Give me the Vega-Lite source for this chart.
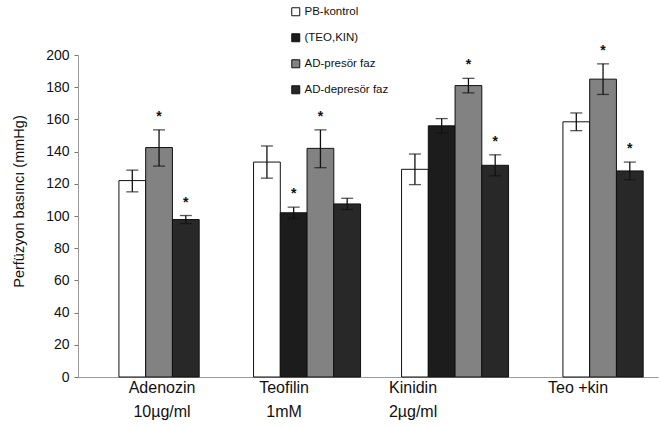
{
  "$schema": "https://vega.github.io/schema/vega-lite/v6.json",
  "width": 580,
  "height": 322,
  "autosize": {"type": "none"},
  "padding": {"left": 78, "top": 55, "right": 3, "bottom": 50},
  "background": "white",
  "config": {"view": {"stroke": null}, "font": "Liberation Sans"},
  "data": {
    "values": [
      {"group": "Adenozin", "series": "PB-kontrol", "v": 122, "lo": 115, "hi": 128.5, "sig": 0},
      {"group": "Adenozin", "series": "AD-presör faz", "v": 142.5, "lo": 131, "hi": 153.5, "sig": 1},
      {"group": "Adenozin", "series": "AD-depresör faz", "v": 97.8, "lo": 95.3, "hi": 100.3, "sig": 1},
      {"group": "Teofilin", "series": "PB-kontrol", "v": 133.5, "lo": 123.5, "hi": 143.5, "sig": 0},
      {"group": "Teofilin", "series": "(TEO,KIN)", "v": 102, "lo": 98.5, "hi": 105.5, "sig": 1},
      {"group": "Teofilin", "series": "AD-presör faz", "v": 142, "lo": 130, "hi": 153.5, "sig": 1},
      {"group": "Teofilin", "series": "AD-depresör faz", "v": 107.5, "lo": 104, "hi": 111, "sig": 0},
      {"group": "Kinidin", "series": "PB-kontrol", "v": 129, "lo": 119.5, "hi": 138.5, "sig": 0},
      {"group": "Kinidin", "series": "(TEO,KIN)", "v": 156, "lo": 151.5, "hi": 160.5, "sig": 0},
      {"group": "Kinidin", "series": "AD-presör faz", "v": 181, "lo": 176.5, "hi": 185.5, "sig": 1},
      {"group": "Kinidin", "series": "AD-depresör faz", "v": 131.5, "lo": 125, "hi": 138, "sig": 1},
      {"group": "Teo +kin", "series": "PB-kontrol", "v": 158.5, "lo": 153, "hi": 164, "sig": 0},
      {"group": "Teo +kin", "series": "AD-presör faz", "v": 185, "lo": 175.5, "hi": 194.5, "sig": 1},
      {"group": "Teo +kin", "series": "AD-depresör faz", "v": 128, "lo": 122.5, "hi": 133.5, "sig": 1}
    ]
  },
  "encoding": {
    "x": {
      "field": "group",
      "type": "nominal",
      "scale": {"domain": ["Adenozin", "Teofilin", "Kinidin", "Teo +kin"], "paddingInner": 0.277, "paddingOuter": 0.098, "align": 0.95},
      "axis": {
        "title": null,
        "labelAngle": 0,
        "domainColor": "#9a9a9a",
        "ticks": false,
        "labelFontSize": 16,
        "labelColor": "#111111",
        "labelPadding": 2,
        "labelLineHeight": 24,
        "labelExpr": "datum.value == 'Adenozin' ? ['Adenozin', '10µg/ml'] : datum.value == 'Teofilin' ? ['Teofilin', '1mM'] : datum.value == 'Kinidin' ? ['Kinidin', '2µg/ml'] : datum.value",
        "labelOffset": {
          "condition": [
            {"test": "datum.value == 'Teofilin'", "value": -23},
            {"test": "datum.value == 'Kinidin'", "value": -42},
            {"test": "datum.value == 'Teo +kin'", "value": -25}
          ],
          "value": 3
        }
      }
    },
    "y": {
      "field": "v",
      "type": "quantitative",
      "scale": {"domain": [0, 200]},
      "axis": {
        "values": [0, 20, 40, 60, 80, 100, 120, 140, 160, 180, 200],
        "grid": false,
        "domainColor": "#9a9a9a",
        "tickColor": "#777777",
        "tickSize": 4,
        "labelFontSize": 14,
        "labelColor": "#111111",
        "labelPadding": 5,
        "title": "Perfüzyon basıncı (mmHg)",
        "titleFontSize": 14.5,
        "titleFontWeight": "normal",
        "titleColor": "#111111",
        "titleAngle": 270,
        "titleBaseline": "middle",
        "titleAlign": "center",
        "titleX": -59,
        "titleY": 146
      }
    }
  },
  "layer": [
    {
      "transform": [{"filter": "datum.group == 'Teofilin' || datum.group == 'Kinidin'"}],
      "encoding": {
        "xOffset": {"field": "series", "type": "nominal", "scale": {"domain": ["PB-kontrol", "(TEO,KIN)", "AD-presör faz", "AD-depresör faz"], "paddingInner": 0, "paddingOuter": 0}}
      },
      "layer": [
        {
          "mark": {"type": "bar", "stroke": "#111111", "strokeWidth": 1},
          "encoding": {
            "color": {
              "field": "series",
              "type": "nominal",
              "scale": {"domain": ["PB-kontrol", "(TEO,KIN)", "AD-presör faz", "AD-depresör faz"], "range": ["#ffffff", "#1c1c1c", "#828282", "#282828"]},
              "legend": {"orient": "none", "legendX": 212, "legendY": -49, "title": null, "symbolType": "square", "symbolSize": 64, "symbolStrokeColor": "#111111", "symbolStrokeWidth": 1, "labelFontSize": 11.5, "labelColor": "#111111", "rowPadding": 13, "labelOffset": 3}
            }
          }
        },
        {
          "mark": {"type": "rule", "color": "#111111", "strokeWidth": 1.3},
          "encoding": {"y": {"field": "lo", "type": "quantitative"}, "y2": {"field": "hi"}}
        },
        {
          "mark": {"type": "tick", "orient": "horizontal", "size": 12, "thickness": 1.3, "color": "#111111"},
          "encoding": {"y": {"field": "hi", "type": "quantitative"}}
        },
        {
          "mark": {"type": "tick", "orient": "horizontal", "size": 12, "thickness": 1.3, "color": "#111111"},
          "encoding": {"y": {"field": "lo", "type": "quantitative"}}
        },
        {
          "transform": [{"filter": "datum.sig == 1"}],
          "mark": {"type": "text", "text": "*", "dy": -13, "fontSize": 14, "fontWeight": "bold", "color": "#111111"},
          "encoding": {"y": {"field": "hi", "type": "quantitative"}}
        }
      ]
    },
    {
      "transform": [{"filter": "datum.group == 'Adenozin' || datum.group == 'Teo +kin'"}],
      "encoding": {
        "xOffset": {"field": "series", "type": "nominal", "scale": {"domain": ["PB-kontrol", "AD-presör faz", "AD-depresör faz"], "paddingInner": 0, "paddingOuter": 0.5}}
      },
      "layer": [
        {
          "mark": {"type": "bar", "stroke": "#111111", "strokeWidth": 1},
          "encoding": {
            "color": {
              "field": "series",
              "type": "nominal",
              "scale": {"domain": ["PB-kontrol", "(TEO,KIN)", "AD-presör faz", "AD-depresör faz"], "range": ["#ffffff", "#1c1c1c", "#828282", "#282828"]},
              "legend": {"orient": "none", "legendX": 212, "legendY": -49, "title": null, "symbolType": "square", "symbolSize": 64, "symbolStrokeColor": "#111111", "symbolStrokeWidth": 1, "labelFontSize": 11.5, "labelColor": "#111111", "rowPadding": 13, "labelOffset": 3}
            }
          }
        },
        {
          "mark": {"type": "rule", "color": "#111111", "strokeWidth": 1.3},
          "encoding": {"y": {"field": "lo", "type": "quantitative"}, "y2": {"field": "hi"}}
        },
        {
          "mark": {"type": "tick", "orient": "horizontal", "size": 12, "thickness": 1.3, "color": "#111111"},
          "encoding": {"y": {"field": "hi", "type": "quantitative"}}
        },
        {
          "mark": {"type": "tick", "orient": "horizontal", "size": 12, "thickness": 1.3, "color": "#111111"},
          "encoding": {"y": {"field": "lo", "type": "quantitative"}}
        },
        {
          "transform": [{"filter": "datum.sig == 1"}],
          "mark": {"type": "text", "text": "*", "dy": -13, "fontSize": 14, "fontWeight": "bold", "color": "#111111"},
          "encoding": {"y": {"field": "hi", "type": "quantitative"}}
        }
      ]
    }
  ],
  "resolve": {"scale": {"xOffset": "independent"}}
}
